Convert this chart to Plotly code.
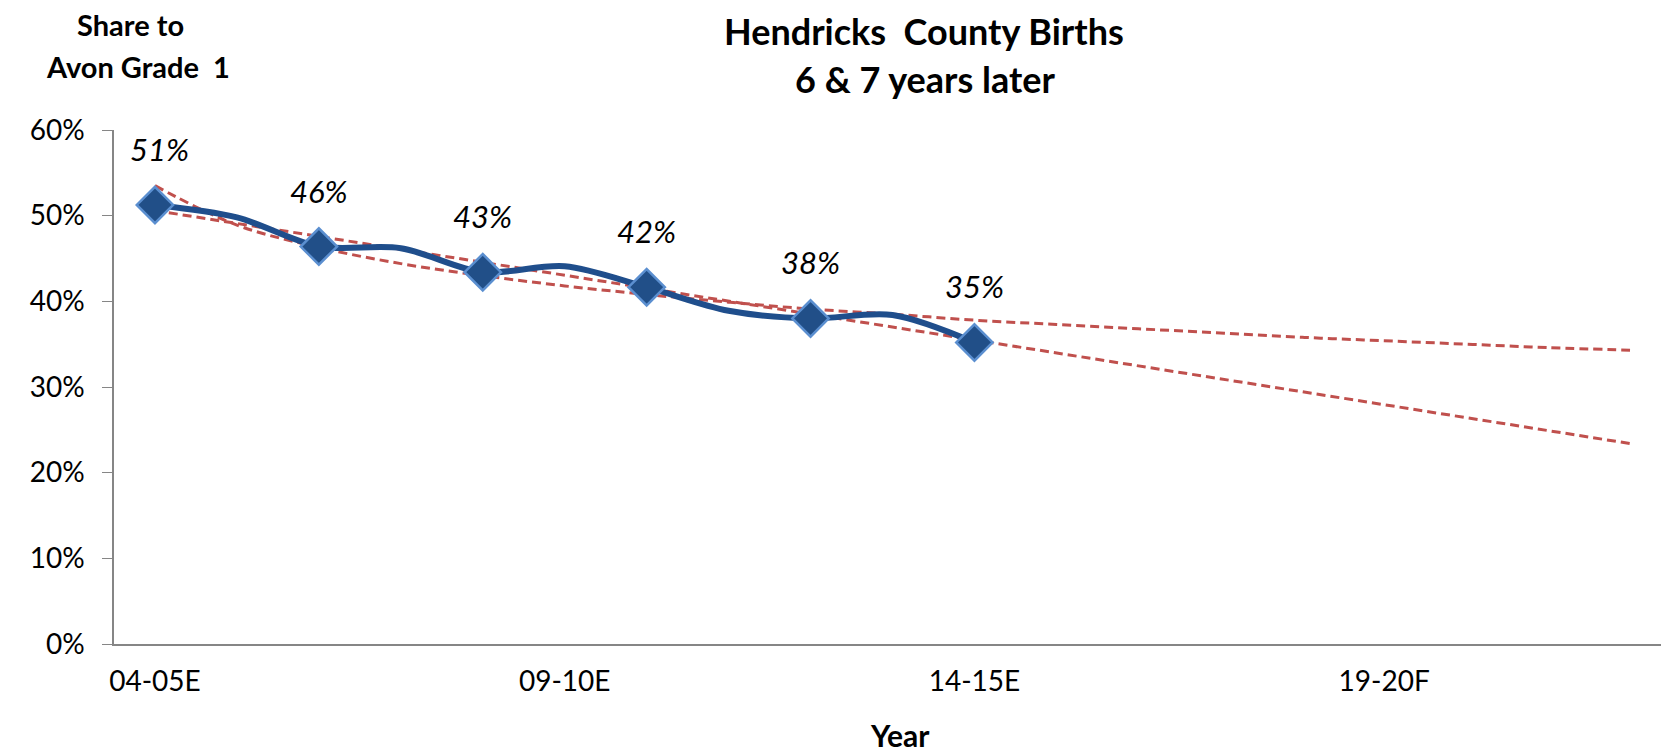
import plotly.graph_objects as go

# all school years on the category axis
years = ["04-05E", "05-06E", "06-07E", "07-08E", "08-09E", "09-10E", "10-11E",
         "11-12E", "12-13E", "13-14E", "14-15E", "15-16F", "16-17F", "17-18F",
         "18-19F", "19-20F", "20-21F", "21-22F", "22-23F"]
tick_years = ["04-05E", "09-10E", "14-15E", "19-20F"]

# yearly share going to Avon grade 1 (smoothed line)
line_years = years[:11]
line_share = [51.25, 49.8, 46.4, 46.2, 43.4, 44.1, 41.65, 38.9, 38.0, 38.4, 35.2]

# marked / labelled years
mark_years = ["04-05E", "06-07E", "08-09E", "10-11E", "12-13E", "14-15E"]
mark_share = [51.25, 46.4, 43.4, 41.65, 38.0, 35.2]
mark_labels = ["51%", "46%", "43%", "42%", "38%", "35%"]

# trend lines
linear_years = ["04-05E", "22-23F"]
linear_trend = [50.6, 23.4]
log_trend = [53.5, 48.9, 46.3, 44.4, 43.0, 41.8, 40.8, 39.9, 39.1, 38.5,
             37.8, 37.3, 36.8, 36.3, 35.8, 35.4, 35.0, 34.6, 34.3]

FONT = "Lato"
red = "#C0504D"

# plot area in pixels
L, R, T, B, W, H = 106, 6, 122, 116, 1669, 752


def px(x, y):
    return (x - L) / (W - L - R), (H - B - y) / (H - T - B)


fig = go.Figure()

fig.add_trace(go.Scatter(x=years, y=log_trend, mode="lines",
                         line=dict(color=red, width=3, dash="9px,5px", shape="spline"),
                         hoverinfo="skip"))
fig.add_trace(go.Scatter(x=linear_years, y=linear_trend, mode="lines",
                         line=dict(color=red, width=3, dash="9px,5px"),
                         hoverinfo="skip"))
fig.add_trace(go.Scatter(x=line_years, y=line_share, mode="lines",
                         line=dict(color="#1F4E8C", width=6, shape="spline", smoothing=0.9)))
fig.add_trace(go.Scatter(x=mark_years, y=mark_share, mode="markers",
                         marker=dict(symbol="diamond", size=28, color="#214F88",
                                     line=dict(color="#5B8FD0", width=2.5))))

for i, (yr, v, lab) in enumerate(zip(mark_years, mark_share, mark_labels)):
    fig.add_annotation(x=yr, y=v, text="<i>" + lab + "</i>", showarrow=False,
                       yshift=56, xshift=5 if i == 0 else 0,
                       font=dict(family=FONT, size=31, color="#000000"))

texts = [
    ("<b>Hendricks  County Births</b>", 916, 23, 36),
    ("<b>6 & 7 years later</b>", 917, 71, 36),
    ("<b>Share to</b>", 122, 16, 29),
    ("<b>Avon Grade  1</b>", 130, 59, 29),
    ("<b>Year</b>", 892, 727, 30),
]
for txt, x, y, s in texts:
    xp, yp = px(x, y)
    fig.add_annotation(x=xp, y=yp, xref="paper", yref="paper", showarrow=False,
                       xanchor="center", yanchor="middle", text=txt,
                       font=dict(family=FONT, size=s, color="#000000"))

fig.update_layout(
    width=W, height=H,
    margin=dict(l=L, r=R, t=T, b=B),
    paper_bgcolor="white", plot_bgcolor="white",
    showlegend=False,
    font=dict(family=FONT, size=28, color="#000000"),
    xaxis=dict(type="category", categoryorder="array", categoryarray=years,
               range=[-0.5, 18.5], tickvals=tick_years, ticktext=tick_years,
               showgrid=False, zeroline=False, showline=True, linecolor="#868686",
               linewidth=1.5, ticks="", ticklabelstandoff=12,
               tickfont=dict(family=FONT, size=28)),
    yaxis=dict(range=[0, 60], tickvals=[0, 10, 20, 30, 40, 50, 60],
               ticktext=["0%", "10%", "20%", "30%", "40%", "50%", "60%"],
               showgrid=False, zeroline=False, showline=True, linecolor="#868686",
               linewidth=1.5, ticks="outside", ticklen=10, tickcolor="#868686",
               ticklabelstandoff=12, tickfont=dict(family=FONT, size=28)),
)

fig.write_html("out.html")
